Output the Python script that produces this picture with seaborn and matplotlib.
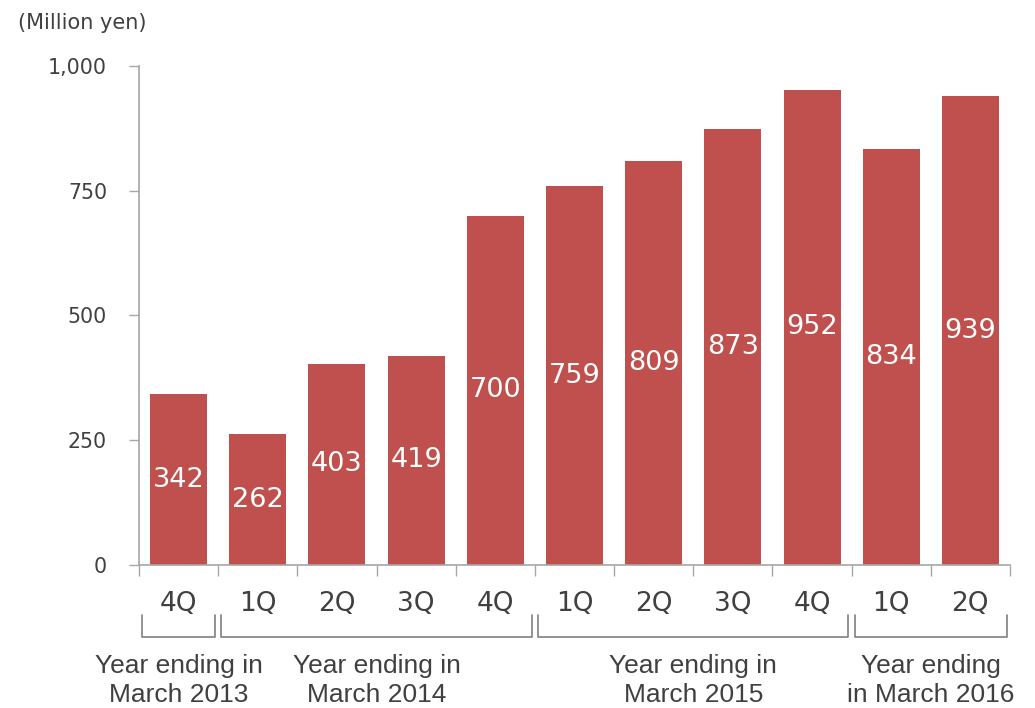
import matplotlib
matplotlib.use("Agg")
import matplotlib.pyplot as plt
import seaborn as sns
import pandas as pd

# Quarterly figures (million yen)
quarters = ["4Q", "1Q", "2Q", "3Q", "4Q", "1Q", "2Q", "3Q", "4Q", "1Q", "2Q"]
values = [342, 262, 403, 419, 700, 759, 809, 873, 952, 834, 939]
fiscal_years = ["Year ending in\nMarch 2013", "Year ending in\nMarch 2014",
                "Year ending in\nMarch 2015", "Year ending\nin March 2016"]
year_sizes = [1, 4, 4, 2]
y_ticks = [0, 250, 500, 750, 1000]

sns.set_theme(style="white")
plt.rcParams["font.family"] = ["DejaVu Sans"]

TEXT = "#404040"
BAR = "#C0504D"
AXIS = "#A6A6A6"

df = pd.DataFrame({"idx": [str(i) for i in range(len(values))], "value": values})

fig = plt.figure(figsize=(10.35, 7.08), dpi=100)
ax = fig.add_axes([0.1343, 0.2020, 0.8415, 0.7048])

sns.barplot(data=df, x="idx", y="value", color=BAR, width=0.72,
            saturation=1, ax=ax, edgecolor="none")

ax.set_xlim(-0.5, len(values) - 0.5)
ax.set_ylim(0, 1000)
ax.set_xlabel("")
ax.set_ylabel("")

# value labels centred inside each bar
for i, v in enumerate(values):
    ax.text(i, v / 2, str(v), ha="center", va="center", color="white",
            fontsize=19.5)

# y axis
ax.set_yticks(y_ticks)
ax.set_yticklabels([f"{t:,}" for t in y_ticks], fontsize=14.8, color=TEXT)
ax.tick_params(axis="y", length=7, width=1, color=AXIS, direction="out",
               left=True, pad=16)

# x axis: labels at bar centres, tick marks at category boundaries
ax.set_xticks(range(len(values)))
ax.set_xticklabels(quarters, fontsize=19, color=TEXT)
ax.tick_params(axis="x", which="major", length=0, pad=19)
ax.set_xticks([i - 0.5 for i in range(len(values) + 1)], minor=True)
ax.tick_params(axis="x", which="minor", length=8, width=1, color=AXIS,
               direction="out", bottom=True)

for side in ["top", "right"]:
    ax.spines[side].set_visible(False)
for side in ["left", "bottom"]:
    ax.spines[side].set_color(AXIS)
    ax.spines[side].set_linewidth(1.2)

fig.text(0.017, 0.968, "(Million yen)", fontsize=15, color=TEXT,
         ha="left", va="center")

# fiscal year brackets and labels
start = 0
trans = ax.get_xaxis_transform()
y_top, y_bot = -0.10, -0.145
for name, n in zip(fiscal_years, year_sizes):
    x0 = start - 0.5 + 0.04
    x1 = start + n - 0.5 - 0.04
    ax.plot([x0, x0, x1, x1], [y_top, y_bot, y_bot, y_top], color="#7F7F7F",
            lw=1.2, transform=trans, clip_on=False)
    xc = (start + start + n - 1) / 2
    ax.text(xc, -0.178, name, ha="center", va="top", fontsize=19,
            color=TEXT, family="Liberation Sans", linespacing=1.27,
            transform=trans)
    start += n

fig.savefig("out.png", dpi=100)
